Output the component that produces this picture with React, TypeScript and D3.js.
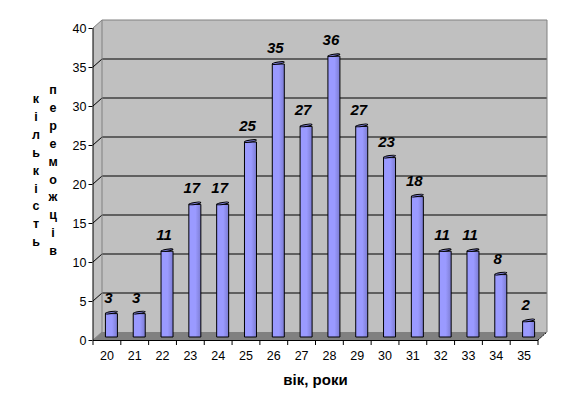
import { useLayoutEffect, useRef } from 'react'
import * as d3 from 'd3'

const ages = ['20', '21', '22', '23', '24', '25', '26', '27', '28', '29', '30', '31', '32', '33', '34', '35']
const winners = [3, 3, 11, 17, 17, 25, 35, 27, 36, 27, 23, 18, 11, 11, 8, 2]
const yTicks = [0, 5, 10, 15, 20, 25, 30, 35, 40]
const yTitleLeft = 'кількість'
const yTitleRight = 'переможців'
const xTitle = 'вік, роки'

const width = 577
const height = 414
const font = 'Liberation Sans, Arial, sans-serif'

// the 3d box: front edge is where the axes are, back wall is shifted by depth
const depthX = 9
const depthY = -8
const barDepthX = 4.5
const barDepthY = -3

const App = () => {
  const ref = useRef<SVGSVGElement>(null)

  useLayoutEffect(() => {
    const svg = d3.select(ref.current)
    svg.selectAll('*').remove()

    const x = d3.scaleBand().domain(ages).range([93, 538])
    const y = d3.scaleLinear().domain([0, 40]).range([340, 28])
    const x0 = x.range()[0]
    const x1 = x.range()[1]

    const grad = svg
      .append('defs')
      .append('linearGradient')
      .attr('id', 'barFill')
    grad.append('stop').attr('offset', '0%').attr('stop-color', '#9a9aff')
    grad.append('stop').attr('offset', '55%').attr('stop-color', '#9a9aff')
    grad.append('stop').attr('offset', '100%').attr('stop-color', '#7c7cd2')

    // side wall and back wall
    svg
      .append('path')
      .attr('d', `M${x0},${y(0)}L${x0},${y(40)}L${x0 + depthX},${y(40) + depthY}L${x1 + depthX},${y(40) + depthY}L${x1 + depthX},${y(0) + depthY}L${x0 + depthX},${y(0) + depthY}Z`)
      .attr('fill', '#c0c0c0')

    // floor
    svg
      .append('path')
      .attr('d', `M${x0},${y(0)}L${x0 + depthX},${y(0) + depthY}L${x1 + depthX},${y(0) + depthY}L${x1},${y(0)}Z`)
      .attr('fill', '#808080')

    // grid lines along back wall and side wall
    svg
      .append('g')
      .selectAll('path')
      .data(yTicks.filter((d) => d > 0 && d < 40))
      .enter()
      .append('path')
      .attr('d', (d) => `M${x0},${y(d)}L${x0 + depthX},${y(d) + depthY}L${x1 + depthX},${y(d) + depthY}`)
      .attr('fill', 'none')
      .attr('stroke', '#000')
      .attr('stroke-width', 1)

    // wall outline
    svg
      .append('path')
      .attr('d', `M${x0},${y(40)}L${x0 + depthX},${y(40) + depthY}L${x1 + depthX},${y(40) + depthY}L${x1 + depthX},${y(0) + depthY}M${x0 + depthX},${y(40) + depthY}L${x0 + depthX},${y(0) + depthY}L${x0},${y(0)}`)
      .attr('fill', 'none')
      .attr('stroke', '#808080')
      .attr('stroke-width', 1)

    // floor right edge
    svg
      .append('path')
      .attr('d', `M${x1},${y(0)}L${x1 + depthX},${y(0) + depthY}`)
      .attr('fill', 'none')
      .attr('stroke', '#000')
      .attr('stroke-width', 1)
      .attr('stroke-dasharray', '2,1')

    // bars
    const barW = 12
    const bars = svg.append('g').selectAll('g').data(winners).enter().append('g')
    const cx = (i: number) => x(ages[i])! + x.bandwidth() / 2 + barDepthX
    const rx = barW / 2
    const barTop = (d: number) => y(d) + barDepthY - 1

    bars
      .append('path')
      .attr('d', (d, i) => {
        const top = barTop(d) + 1
        const bottom = y(0) + barDepthY
        return `M${cx(i) - rx},${top}L${cx(i) - rx},${bottom}L${cx(i) + rx},${bottom}L${cx(i) + rx},${top}Z`
      })
      .attr('fill', 'url(#barFill)')
      .attr('stroke', '#000')
      .attr('stroke-width', 1)

    bars
      .append('ellipse')
      .attr('cx', 0)
      .attr('cy', 0)
      .attr('rx', rx)
      .attr('ry', 1)
      .attr('transform', (d, i) => `translate(${cx(i)},${barTop(d)}) rotate(-9)`)
      .attr('fill', '#7c7cd2')
      .attr('stroke', '#000')
      .attr('stroke-width', 1)

    bars
      .append('text')
      .attr('x', (d, i) => cx(i) - 3)
      .attr('y', (d) => barTop(d) - 10)
      .attr('text-anchor', 'middle')
      .attr('font-family', font)
      .attr('font-size', 15)
      .attr('font-style', 'italic')
      .attr('font-weight', 'bold')
      .text((d) => d)

    // axes
    const axisY = svg.append('g').attr('transform', `translate(${x0 - 0.5},0)`)
    axisY.call(d3.axisLeft(y).tickValues(yTicks).tickSize(4).tickPadding(2))
    axisY.select('.domain').attr('stroke', '#000').attr('d', `M0.5,${y(40)}V${y(0)}`)
    axisY.selectAll('text').attr('font-family', font).attr('font-size', 12.5).attr('fill', '#000')

    const axisX = svg.append('g').attr('transform', `translate(0,${y(0)})`)
    axisX.append('path').attr('d', `M${x0},0.5H${x1}`).attr('stroke', '#000')
    axisX
      .selectAll('line')
      .data([...ages.map((d) => x(d)!), x1])
      .enter()
      .append('line')
      .attr('x1', (d) => d)
      .attr('x2', (d) => d)
      .attr('y1', 0)
      .attr('y2', 5)
      .attr('stroke', '#000')
    axisX
      .selectAll('text')
      .data(ages)
      .enter()
      .append('text')
      .attr('x', (d) => x(d)! + x.bandwidth() / 2)
      .attr('y', 20)
      .attr('text-anchor', 'middle')
      .attr('font-family', font)
      .attr('font-size', 12.5)
      .text((d) => d)

    // titles, the y ones are written letter under letter
    svg
      .append('text')
      .attr('x', 315.5)
      .attr('y', 385)
      .attr('text-anchor', 'middle')
      .attr('font-family', font)
      .attr('font-size', 15)
      .attr('font-weight', 'bold')
      .text(xTitle)

    const stacked = (title: string, px: number, py: number) => {
      svg
        .append('g')
        .selectAll('text')
        .data(title.split(''))
        .enter()
        .append('text')
        .attr('x', px)
        .attr('y', (d, i) => py + i * 17.9)
        .attr('text-anchor', 'middle')
        .attr('font-family', font)
        .attr('font-size', 12.5)
        .attr('font-weight', 'bold')
        .text((d) => d)
    }
    stacked(yTitleLeft, 36, 103)
    stacked(yTitleRight, 53, 94)
  }, [])

  return (
    <svg
      ref={ref}
      width={width}
      height={height}
      style={{ position: 'absolute', left: 0, top: 0, background: '#fff' }}
    />
  )
}

export default App
